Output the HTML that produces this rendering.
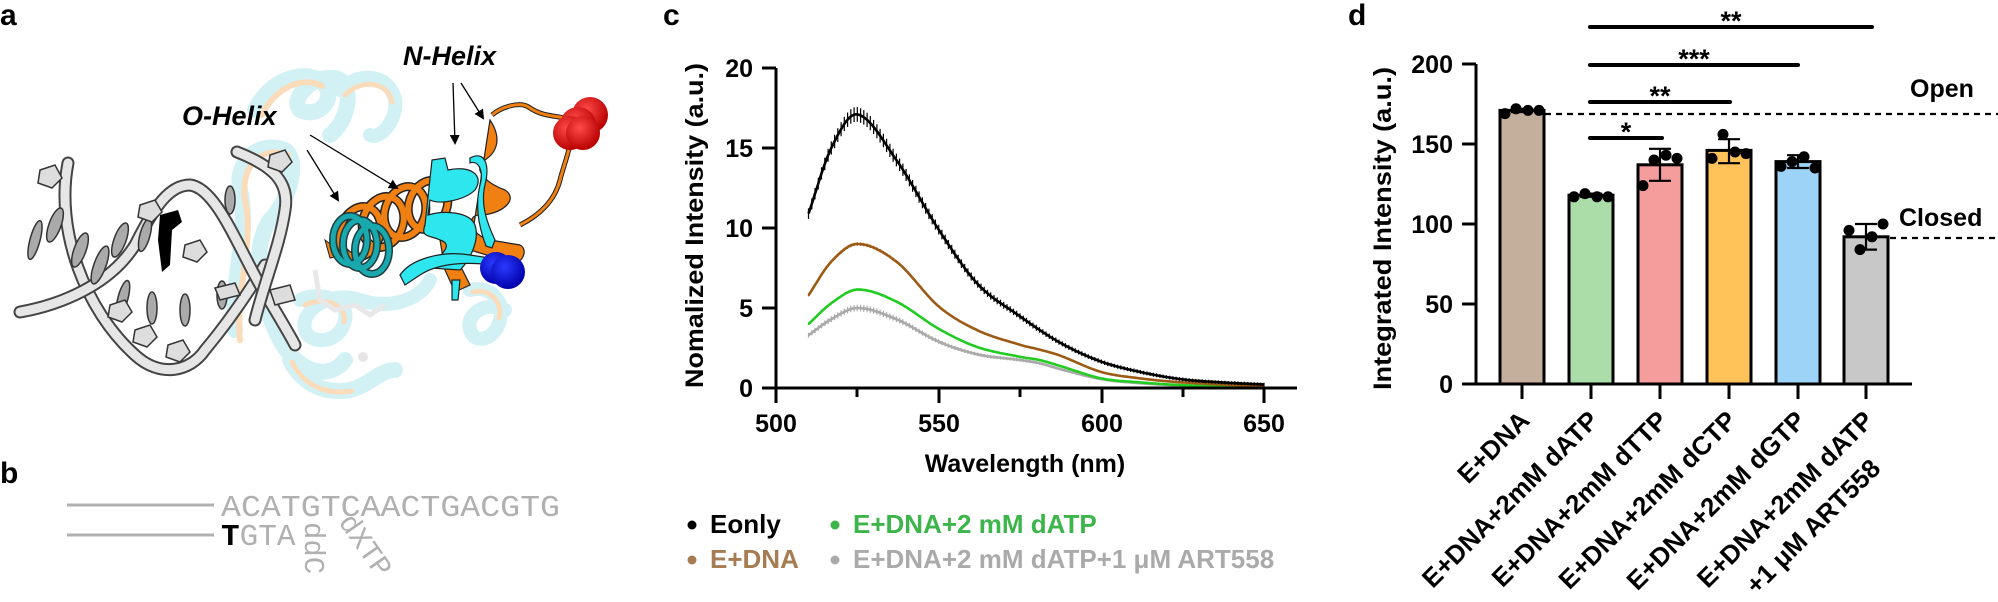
<!DOCTYPE html>
<html><head><meta charset="utf-8">
<style>
html,body{margin:0;padding:0;background:#fff;}
svg{display:block;}
text{font-family:"Liberation Sans",Arial,sans-serif;}
text.mono{font-family:"Liberation Mono",monospace;}
</style></head>
<body>
<svg id="s" width="1998" height="602" viewBox="0 0 1998 602" xmlns="http://www.w3.org/2000/svg">
<rect width="1998" height="602" fill="#fff"/>

<!-- ===== Panel a ===== -->
<text x="0" y="25" font-size="30" font-weight="bold">a</text>
<g id="protein">
  <g fill="none" stroke-linecap="round" opacity="0.9">
    <path d="M235,330 C230,280 250,230 240,190 C235,160 260,140 285,150 C300,160 290,200 270,220 C250,250 260,300 280,340 C300,375 330,380 345,360" stroke="#cdf0f4" stroke-width="16"/>
    <path d="M240,340 C235,290 255,240 245,200 C240,165 262,145 288,155" stroke="#fbd9b3" stroke-width="6"/>
    <path d="M255,110 C270,80 300,70 320,80 C340,95 320,120 300,110 C290,100 310,75 335,78 C355,82 350,120 330,135" stroke="#cdf0f4" stroke-width="16"/>
    <path d="M262,115 C276,86 304,76 322,86" stroke="#fbd9b3" stroke-width="6"/>
    <path d="M340,90 C360,70 390,75 395,100 C398,120 380,140 370,135" stroke="#cdf0f4" stroke-width="14"/>
    <path d="M345,95 C362,78 388,82 392,102" stroke="#fbd9b3" stroke-width="5"/>
    <path d="M300,300 C320,290 350,300 345,320 C340,345 310,345 305,330 C300,310 330,290 360,300 C390,310 420,300 430,280" stroke="#cdf0f4" stroke-width="14"/>
    <path d="M305,305 C322,296 348,304 344,322" stroke="#fbd9b3" stroke-width="5"/>
    <path d="M470,290 C490,285 505,300 500,320 C495,340 475,345 470,330 C465,315 485,300 505,310" stroke="#cdf0f4" stroke-width="14"/>
    <path d="M473,292 C490,288 503,302 499,318" stroke="#fbd9b3" stroke-width="5"/>
    <path d="M290,360 C300,380 320,395 350,390 C370,385 380,370 395,370" stroke="#cdf0f4" stroke-width="16"/>
    <path d="M292,362 C302,382 322,396 352,391" stroke="#fbd9b3" stroke-width="5"/>
  </g>
  <path d="M315,270 L320,300 L335,310 L355,305 L370,315 L385,305" stroke="#e8e8e8" stroke-width="5" fill="none"/>
  <circle cx="363" cy="357" r="5" fill="#e6e6e6"/>
  <g stroke="#222" stroke-width="1.2">
    <path d="M492,115 C500,108 520,100 530,108 C545,118 560,115 570,120 C575,140 565,160 560,180 C555,200 540,215 520,225" fill="none" stroke="#222" stroke-width="5"/>
    <path d="M492,115 C500,108 520,100 530,108 C545,118 560,115 570,120 C575,140 565,160 560,180 C555,200 540,215 520,225" fill="none" stroke="#f08012" stroke-width="3"/>
    <path d="M490,120 C500,135 500,150 485,160 C470,170 490,185 505,190 C520,200 500,215 480,215 C465,215 470,235 490,240 L520,245 C530,250 520,268 510,262 L470,250 Z" fill="#f08012"/>
    <path d="M440,240 C460,235 470,255 460,265 L470,285 L455,292 L445,270 Z" fill="#f08012"/>
  </g>
  <g fill="none" stroke="#222" stroke-width="9">
    <ellipse cx="360" cy="232" rx="20" ry="26" transform="rotate(20 360 232)"/>
    <ellipse cx="383" cy="222" rx="20" ry="26" transform="rotate(20 383 222)"/>
    <ellipse cx="405" cy="212" rx="20" ry="26" transform="rotate(20 405 212)"/>
    <ellipse cx="428" cy="205" rx="19" ry="25" transform="rotate(20 428 205)"/>
  </g>
  <g fill="none" stroke="#f08012" stroke-width="6">
    <ellipse cx="360" cy="232" rx="20" ry="26" transform="rotate(20 360 232)"/>
    <ellipse cx="383" cy="222" rx="20" ry="26" transform="rotate(20 383 222)"/>
    <ellipse cx="405" cy="212" rx="20" ry="26" transform="rotate(20 405 212)"/>
    <ellipse cx="428" cy="205" rx="19" ry="25" transform="rotate(20 428 205)"/>
  </g>
  <path d="M325,240 L345,255 L330,258 Z" fill="#f08012" stroke="#222"/>
  <g fill="none" stroke="#1f3d3f" stroke-width="8">
    <ellipse cx="350" cy="240" rx="17" ry="24"/>
    <ellipse cx="360" cy="244" rx="17" ry="24"/>
    <ellipse cx="372" cy="250" rx="17" ry="24"/>
  </g>
  <g fill="none" stroke="#19a8ad" stroke-width="5">
    <ellipse cx="350" cy="240" rx="17" ry="24"/>
    <ellipse cx="360" cy="244" rx="17" ry="24"/>
    <ellipse cx="372" cy="250" rx="17" ry="24"/>
  </g>
  <g stroke="#222" stroke-width="1.2" fill="#2ee6ee">
    <path d="M432,160 L445,158 L448,170 C470,165 485,175 475,190 C465,200 440,205 430,200 L428,215 C445,210 470,212 475,225 C480,240 470,260 460,270 L430,268 C440,255 455,245 440,240 C430,235 420,238 425,225 Z"/>
    <path d="M470,158 C485,150 490,165 485,185 C480,205 488,225 495,240 L492,248 L486,246 C478,225 475,205 480,185 C484,170 478,160 470,163 Z"/>
    <path d="M400,275 C410,260 440,250 470,255 L490,258 L492,265 C470,262 440,262 420,275 L405,285 Z"/>
    <path d="M452,280 L460,280 L458,300 L452,300 Z"/>
  </g>
  <defs>
    <radialGradient id="rg" cx="40%" cy="35%" r="65%"><stop offset="0" stop-color="#ff4a4a"/><stop offset="1" stop-color="#b80000"/></radialGradient>
    <radialGradient id="bg" cx="40%" cy="35%" r="65%"><stop offset="0" stop-color="#2a3aff"/><stop offset="1" stop-color="#0000a8"/></radialGradient>
  </defs>
  <circle cx="590" cy="115" r="18" fill="url(#rg)"/>
  <circle cx="578" cy="125" r="18" fill="url(#rg)"/>
  <circle cx="570" cy="133" r="17" fill="url(#rg)"/>
  <circle cx="583" cy="133" r="17" fill="url(#rg)"/>
  <circle cx="496" cy="268" r="16" fill="url(#bg)"/>
  <circle cx="508" cy="272" r="17" fill="url(#bg)"/>
  <g fill="none" stroke-linecap="round">
    <path d="M68,163 C55,230 85,310 135,355 C160,378 190,372 205,350 C230,320 250,290 265,265" stroke="#444" stroke-width="13"/>
    <path d="M68,163 C55,230 85,310 135,355 C160,378 190,372 205,350 C230,320 250,290 265,265" stroke="#e6e6e6" stroke-width="9"/>
    <path d="M20,312 C60,305 110,285 135,245 C155,205 170,185 190,185 C215,188 235,240 260,285 C275,310 290,335 295,345" stroke="#444" stroke-width="13"/>
    <path d="M20,312 C60,305 110,285 135,245 C155,205 170,185 190,185 C215,188 235,240 260,285 C275,310 290,335 295,345" stroke="#e6e6e6" stroke-width="9"/>
    <path d="M237,152 C270,165 290,180 285,210 C280,245 265,280 255,320" stroke="#444" stroke-width="13"/>
    <path d="M237,152 C270,165 290,180 285,210 C280,245 265,280 255,320" stroke="#e6e6e6" stroke-width="9"/>
  </g>
  <g fill="#aaa" stroke="#333" stroke-width="1.5">
    <ellipse cx="35" cy="240" rx="5" ry="20" transform="rotate(15 35 240)"/>
    <ellipse cx="55" cy="225" rx="6" ry="18" transform="rotate(20 55 225)"/>
    <ellipse cx="80" cy="250" rx="6" ry="18" transform="rotate(20 80 250)"/>
    <ellipse cx="100" cy="265" rx="6" ry="20" transform="rotate(20 100 265)"/>
    <ellipse cx="120" cy="240" rx="6" ry="18" transform="rotate(20 120 240)"/>
    <ellipse cx="145" cy="235" rx="5" ry="17" transform="rotate(15 145 235)"/>
    <ellipse cx="123" cy="298" rx="5" ry="18" transform="rotate(15 123 298)"/>
    <ellipse cx="152" cy="308" rx="5" ry="16"/>
    <ellipse cx="185" cy="310" rx="5" ry="16"/>
    <ellipse cx="222" cy="295" rx="5" ry="14"/>
    <ellipse cx="230" cy="200" rx="5" ry="14"/>
    <polygon points="40,170 55,165 62,178 52,188 38,183" fill="#ddd"/>
    <polygon points="110,305 125,300 132,312 122,322 108,317" fill="#ddd"/>
    <polygon points="135,330 150,325 157,337 147,347 133,342" fill="#ddd"/>
    <polygon points="168,345 183,340 190,352 180,362 166,357" fill="#ddd"/>
    <polygon points="140,205 155,200 162,212 152,222 138,217" fill="#ddd"/>
    <polygon points="185,245 200,240 207,252 197,262 183,257" fill="#ddd"/>
    <polygon points="270,155 285,150 292,162 282,172 268,167" fill="#ddd"/>
    <polygon points="215,288 235,283 240,295 220,300" fill="#ddd"/>
    <polygon points="270,290 290,285 295,300 275,305" fill="#ddd"/>
  </g>
  <path d="M160,215 L178,210 L182,222 L172,230 L170,265 L162,272 L158,240 Z" fill="#000"/>
</g>
<text x="182" y="125" font-size="27" font-weight="bold" font-style="italic">O-Helix</text>
<text x="403" y="65" font-size="27" font-weight="bold" font-style="italic">N-Helix</text>
<defs><marker id="ah" markerWidth="10" markerHeight="10" refX="8" refY="5" orient="auto" markerUnits="userSpaceOnUse"><path d="M0,0 L10,5 L0,10 Z" fill="#000"/></marker></defs>
<g stroke="#000" stroke-width="1.3" marker-end="url(#ah)">
  <line x1="453" y1="83" x2="455" y2="143"/>
  <line x1="461" y1="83" x2="483" y2="118"/>
  <line x1="310" y1="135" x2="397" y2="188"/>
  <line x1="307" y1="150" x2="338" y2="200"/>
</g>

<!-- ===== Panel b ===== -->
<text x="0" y="483" font-size="30" font-weight="bold">b</text>
<line x1="67" y1="505" x2="214" y2="505" stroke="#b0b0b0" stroke-width="3"/>
<line x1="67" y1="535" x2="214" y2="535" stroke="#b0b0b0" stroke-width="3"/>
<g font-size="31" fill="#b0b0b0">
  <text class="mono" x="221" y="516" textLength="339" lengthAdjust="spacingAndGlyphs">ACATGTCAACTGACGTG</text>
  <text class="mono" x="221" y="545"><tspan fill="#000" font-weight="bold">T</tspan>GTA</text>
  <text class="mono" transform="translate(305,522) rotate(90)" font-size="29">ddC</text>
  <text class="mono" transform="translate(338,522) rotate(55)" font-size="29">dXTP</text>
</g>

<!-- ===== Panel c ===== -->
<text x="663" y="25" font-size="30" font-weight="bold">c</text>
<g id="cplot"></g>
<g stroke="#000" stroke-width="3" fill="none">
  <line x1="776" y1="68" x2="776" y2="403"/>
  <line x1="762" y1="388" x2="1297" y2="388"/>
  <line x1="762" y1="68" x2="776" y2="68"/>
  <line x1="762" y1="148" x2="776" y2="148"/>
  <line x1="762" y1="228" x2="776" y2="228"/>
  <line x1="762" y1="308" x2="776" y2="308"/>
  <line x1="857" y1="388" x2="857" y2="397"/>
  <line x1="939" y1="388" x2="939" y2="403"/>
  <line x1="1020" y1="388" x2="1020" y2="397"/>
  <line x1="1102" y1="388" x2="1102" y2="403"/>
  <line x1="1183" y1="388" x2="1183" y2="397"/>
  <line x1="1264" y1="388" x2="1264" y2="403"/>
</g>
<g font-size="25" font-weight="bold" text-anchor="end">
  <text x="753" y="77">20</text><text x="753" y="157">15</text><text x="753" y="237">10</text>
  <text x="753" y="317">5</text><text x="753" y="397">0</text>
</g>
<g font-size="25" font-weight="bold" text-anchor="middle">
  <text x="776" y="432">500</text><text x="939" y="432">550</text><text x="1102" y="432">600</text><text x="1264" y="432">650</text>
</g>
<text x="1025" y="472" font-size="25" font-weight="bold" text-anchor="middle">Wavelength (nm)</text>
<text transform="translate(703,388) rotate(-90)" font-size="25" font-weight="bold" textLength="325" lengthAdjust="spacingAndGlyphs">Nomalized Intensity (a.u.)</text>
<g font-size="26" font-weight="bold">
  <circle cx="692" cy="525" r="4.5" fill="#000"/><text x="710" y="533">Eonly</text>
  <circle cx="835" cy="525" r="4.5" fill="#3cb54a"/><text x="853" y="533" fill="#3cb54a">E+DNA+2 mM dATP</text>
  <circle cx="692" cy="560" r="4.5" fill="#a67c52"/><text x="710" y="568" fill="#a67c52">E+DNA</text>
  <circle cx="835" cy="560" r="4.5" fill="#aaaaaa"/><text x="853" y="568" fill="#aaaaaa">E+DNA+2 mM dATP+1 μM ART558</text>
</g>

<!-- ===== Panel d ===== -->
<text x="1348" y="25" font-size="30" font-weight="bold">d</text>
<g id="dplot"></g>
<g stroke="#000" stroke-width="3">
  <line x1="1476" y1="64" x2="1476" y2="385"/>
  <line x1="1462" y1="384" x2="1912" y2="384"/>
  <line x1="1462" y1="64" x2="1476" y2="64"/>
  <line x1="1462" y1="144" x2="1476" y2="144"/>
  <line x1="1462" y1="224" x2="1476" y2="224"/>
  <line x1="1462" y1="304" x2="1476" y2="304"/>
</g>
<g font-size="25" font-weight="bold" text-anchor="end">
  <text x="1453" y="73">200</text><text x="1453" y="153">150</text><text x="1453" y="233">100</text>
  <text x="1453" y="313">50</text><text x="1453" y="393">0</text>
</g>
<text transform="translate(1391,390) rotate(-90)" font-size="25" font-weight="bold" textLength="323" lengthAdjust="spacingAndGlyphs">Integrated Intensity (a.u.)</text>
<text x="1910" y="97" font-size="25" font-weight="bold">Open</text>
<text x="1899" y="226" font-size="25" font-weight="bold">Closed</text>
</svg>
<script>
(function(){
var NS="http://www.w3.org/2000/svg";
function el(p,tag,attrs,txt){var e=document.createElementNS(NS,tag);for(var k in attrs)e.setAttribute(k,attrs[k]);if(txt!=null)e.textContent=txt;p.appendChild(e);return e;}
var cg=document.getElementById("cplot");
function px(nm){return 776+(nm-500)*3.2533;}
function py(v){return 388-v*16;}
function interp(pts,x){
  for(var i=0;i<pts.length-1;i++){
    if(x>=pts[i][0]&&x<=pts[i+1][0]){
      var p0=pts[Math.max(0,i-1)],p1=pts[i],p2=pts[i+1],p3=pts[Math.min(pts.length-1,i+2)];
      var t=(x-p1[0])/(p2[0]-p1[0]);
      var m1=(p2[1]-p0[1])/(p2[0]-p0[0])*(p2[0]-p1[0]);
      var m2=(p3[1]-p1[1])/(p3[0]-p1[0])*(p2[0]-p1[0]);
      var t2=t*t,t3=t2*t;
      return (2*t3-3*t2+1)*p1[1]+(t3-2*t2+t)*m1+(-2*t3+3*t2)*p2[1]+(t3-t2)*m2;
    }
  }
  return pts[pts.length-1][1];
}
var series=[
 {c:"#aaaaaa",e:0.18,pts:[[510,3.3],[517,4.3],[525,5.0],[537,4.3],[550,2.9],[562,2.1],[575,1.75],[581,1.55],[587,1.2],[600,0.55],[612,0.3],[625,0.15],[650,0.05]]},
 {c:"#22cc22",e:0.06,pts:[[510,4.0],[517,5.3],[525,6.15],[537,5.4],[550,3.7],[562,2.55],[575,1.95],[581,1.75],[587,1.4],[600,0.6],[612,0.35],[625,0.18],[650,0.05]]},
 {c:"#9c5a14",e:0.06,pts:[[510,5.8],[517,7.9],[525,9.0],[537,7.9],[550,5.1],[562,3.6],[575,2.7],[581,2.4],[587,2.05],[600,1.0],[612,0.6],[625,0.35],[650,0.1]]},
 {c:"#000000",e:0.35,pts:[[510,10.9],[517,15.0],[525,17.1],[537,14.25],[550,9.9],[562,6.5],[574.5,4.55],[587,2.87],[599.5,1.68],[612,1.0],[624.5,0.55],[637,0.35],[650,0.22]]}
];
series.forEach(function(s){
  var d="",ticks="";
  for(var nm=510;nm<=650.001;nm+=0.5){
    var v=interp(s.pts,nm);
    d+=(d?"L":"M")+px(nm).toFixed(1)+","+py(v).toFixed(1);
  }
  for(var nm2=510;nm2<=650;nm2+=1){
    var v2=interp(s.pts,nm2);var e=s.e*(0.3+v2/(s.c=="#000000"?17:6));
    ticks+="M"+px(nm2).toFixed(1)+","+py(v2+e).toFixed(1)+"V"+py(v2-e).toFixed(1);
  }
  el(cg,"path",{d:ticks,stroke:s.c,"stroke-width":1.2,fill:"none"});
  el(cg,"path",{d:d,stroke:s.c,"stroke-width":2.6,fill:"none"});
});
var dg=document.getElementById("dplot");
function dy(v){return 384-v*1.6;}
var centers=[1522,1591,1660,1729,1798,1866];
var bars=[
 {v:171,c:"#c4ae9c",pts:[169,172,171,171],e:[170,172]},
 {v:118,c:"#aadda8",pts:[117,119,117,117],e:[117,119]},
 {v:137,c:"#f59c9c",pts:[124,140,143,141],e:[127,147]},
 {v:146,c:"#ffc35a",pts:[141,156,145,144],e:[138,153]},
 {v:139,c:"#9dd3f7",pts:[136,139,142,135],e:[135,143]},
 {v:92,c:"#c8c8c8",pts:[96,84,92,100],e:[84,100]}
];
el(dg,"line",{x1:1545,y1:114,x2:1998,y2:114,stroke:"#000","stroke-width":2.2,"stroke-dasharray":"6,5"});
el(dg,"line",{x1:1890,y1:238,x2:1998,y2:238,stroke:"#000","stroke-width":2.2,"stroke-dasharray":"6,5"});
var names=["E+DNA","E+DNA+2mM dATP","E+DNA+2mM dTTP","E+DNA+2mM dCTP","E+DNA+2mM dGTP","E+DNA+2mM dATP"];
bars.forEach(function(b,i){
  var cx=centers[i];
  el(dg,"rect",{x:cx-22,y:dy(b.v),width:44,height:384-dy(b.v),fill:b.c,stroke:"#000","stroke-width":3});
  el(dg,"line",{x1:cx,y1:384,x2:cx,y2:399,stroke:"#000","stroke-width":3});
  var ey1=dy(b.e[1]),ey0=dy(b.e[0]);
  el(dg,"path",{d:"M"+cx+","+ey1+"V"+ey0+"M"+(cx-11)+","+ey1+"H"+(cx+11)+"M"+(cx-11)+","+ey0+"H"+(cx+11),stroke:"#000","stroke-width":2.2,fill:"none"});
  var offs=[-17,-6,6,17];
  b.pts.forEach(function(p,j){el(dg,"circle",{cx:cx+offs[j],cy:dy(p),r:5.5,fill:"#000"});});
  var g=el(dg,"g",{"font-size":"26","font-weight":"bold","text-anchor":"end"});
  el(g,"text",{transform:"translate("+(cx+9)+",422) rotate(-45)"},names[i]);
  if(i==5) el(g,"text",{transform:"translate("+(cx+16)+",470) rotate(-45)"},"+1 μM ART558");
});
var sig=[[27,1872,"**"],[65,1798,"***"],[102,1730,"**"],[138,1662,"*"]];
sig.forEach(function(s){
  el(dg,"line",{x1:1590,y1:s[0],x2:s[1],y2:s[0],stroke:"#000","stroke-width":4,"stroke-linecap":"round"});
  el(dg,"text",{x:(1590+s[1])/2,y:s[0]+3,"font-size":"27","font-weight":"bold","text-anchor":"middle"},s[2]);
});
})();
</script>
</body></html>
